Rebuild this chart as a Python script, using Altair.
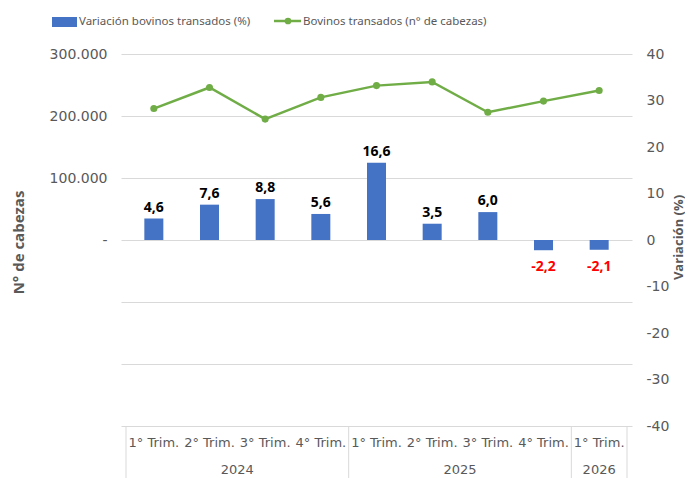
import altair as alt
import pandas as pd

quarters = ["1° Trim.", "2° Trim.", "3° Trim.", "4° Trim.",
            "1° Trim.", "2° Trim.", "3° Trim.", "4° Trim.", "1° Trim."]
years = ["2024", "2024", "2024", "2024", "2025", "2025", "2025", "2025", "2026"]
variacion = [4.6, 7.6, 8.8, 5.6, 16.6, 3.5, 6.0, -2.2, -2.1]
cabezas = [212000, 246000, 195000, 230000, 249000, 255000, 206000, 224000, 241000]
series_names = ["Variación bovinos transados (%)", "Bovinos transados (n° de cabezas)"]
left_ticks = [-300000, -200000, -100000, 0, 100000, 200000, 300000]
right_ticks = [-40, -30, -20, -10, 0, 10, 20, 30, 40]

W, H = 511, 372
GRAY = "#595959"
BLUE = "#4472C4"
GREEN = "#70AD47"
LINEC = "#d9d9d9"
AXFONT = "DejaVu Sans"
TFONT = "Open Sans"
LEGFONT = "Noto Sans"

df = pd.DataFrame({"idx": list(range(len(quarters))), "trim": quarters, "anio": years,
                   "var": variacion, "cab": cabezas})
leg1 = pd.DataFrame({"name": [series_names[0]]})
leg2 = pd.DataFrame({"name": [series_names[1]]})

xs = alt.Scale(domain=[-0.5, 8.5])
X = alt.X("idx:Q", scale=xs, axis=None)
vscale = alt.Scale(domain=[-40, 40])
cscale = alt.Scale(domain=[-300000, 300000])

bars = alt.Chart(df).mark_bar(color=BLUE, size=19).encode(
    x=X,
    y=alt.Y("var:Q", scale=vscale, axis=alt.Axis(
        orient="right", values=right_ticks, labelExpr="'' + datum.value",
        title="Variación (%)", grid=False,
        ticks=False, tickSize=0, domain=False, labelPadding=14,
        labelFont=AXFONT, labelFontSize=14, labelColor=GRAY,
        titleFont=TFONT, titleFontSize=13, titleFontWeight="bold", titleColor=GRAY,
        titleAngle=270, titleX=46, titleY=183, titleAlign="center", titleBaseline="middle")),
)

lbl_expr = "replace(replace(format(datum.var, '.1f'), '.', ','), '\u2212', '-')"
pos_lbl = alt.Chart(df).transform_filter("datum.var >= 0").transform_calculate(
    lbl=lbl_expr).mark_text(baseline="alphabetic", dy=-7, font=TFONT, fontSize=14,
                            fontWeight="bold", color="black").encode(
    x=X, y=alt.Y("var:Q", scale=vscale, axis=None), text="lbl:N")
neg_lbl = alt.Chart(df).transform_filter("datum.var < 0").transform_calculate(
    lbl=lbl_expr).mark_text(baseline="alphabetic", dy=21, font=TFONT, fontSize=14,
                            fontWeight="bold", color="#FF0000").encode(
    x=X, y=alt.Y("var:Q", scale=vscale, axis=None), text="lbl:N")

left_expr = ("datum.value < 0 ? '' : (datum.value == 0 ? '-\u00a0\u00a0' : "
             "format(datum.value / 1000, 'd') + '.000')")
line = alt.Chart(df).mark_line(
    color=GREEN, strokeWidth=2.5,
    point=alt.OverlayMarkDef(color=GREEN, size=50, filled=True, opacity=1)).encode(
    x=X,
    y=alt.Y("cab:Q", scale=cscale, axis=alt.Axis(
        orient="left", values=left_ticks, labelExpr=left_expr, title="N° de cabezas",
        grid=True, gridColor=LINEC, gridWidth=1, ticks=False, tickSize=0, domain=False,
        labelPadding=14, labelFont=AXFONT, labelFontSize=14, labelColor=GRAY,
        titleFont=TFONT, titleFontSize=15, titleFontWeight="bold", titleColor=GRAY,
        titleAngle=270, titleX=-103, titleY=188, titleAlign="center", titleBaseline="middle")),
)

q_lbl = alt.Chart(df).mark_text(font=AXFONT, fontSize=13, color=GRAY, baseline="middle").encode(
    x=X, y=alt.value(389), text="trim:N")
y_lbl = alt.Chart(df).transform_aggregate(c="mean(idx)", groupby=["anio"]).mark_text(
    font=AXFONT, fontSize=13, color=GRAY, baseline="middle").encode(
    x=alt.X("c:Q", scale=xs, axis=None), y=alt.value(416), text="anio:N")
sep = alt.Chart(df).transform_aggregate(m="min(idx)", groupby=["anio"]).transform_calculate(
    s="datum.m - 0.5").mark_rule(color=LINEC, strokeWidth=1).encode(
    x=alt.X("s:Q", scale=xs, axis=None), y=alt.value(H), y2=alt.value(H + 70))
sep_end = alt.Chart(df).transform_aggregate(m="max(idx)").transform_calculate(
    s="datum.m + 0.5").mark_rule(color=LINEC, strokeWidth=1).encode(
    x=alt.X("s:Q", scale=xs, axis=None), y=alt.value(H), y2=alt.value(H + 70))

leg_rect = alt.Chart(leg1).mark_rect(color=BLUE).encode(
    x=alt.value(-69), x2=alt.value(-44), y=alt.value(-37), y2=alt.value(-27))
leg_t1 = alt.Chart(leg1).mark_text(align="left", baseline="alphabetic", font=LEGFONT,
                                   fontSize=11.5, color=GRAY).encode(
    x=alt.value(-42), y=alt.value(-29), text="name:N")
leg_line = alt.Chart(leg2).mark_rule(color=GREEN, strokeWidth=2.5).encode(
    x=alt.value(153), x2=alt.value(180), y=alt.value(-33))
leg_pt = alt.Chart(leg2).mark_circle(color=GREEN, size=45, opacity=1).encode(
    x=alt.value(167), y=alt.value(-33))
leg_t2 = alt.Chart(leg2).mark_text(align="left", baseline="alphabetic", font=LEGFONT,
                                   fontSize=11.5, color=GRAY).encode(
    x=alt.value(182), y=alt.value(-29), text="name:N")

chart = alt.layer(
    bars, line, pos_lbl, neg_lbl, q_lbl, y_lbl, sep, sep_end,
    leg_rect, leg_t1, leg_line, leg_pt, leg_t2
).resolve_scale(y="independent").properties(
    width=W, height=H,
    padding={"left": 113, "top": 46, "right": 53, "bottom": 52},
    autosize=alt.AutoSizeParams(type="none"),
    background="white",
).configure_view(strokeWidth=0)

chart.save("out.html", embed_options={"renderer": "svg", "actions": False})
